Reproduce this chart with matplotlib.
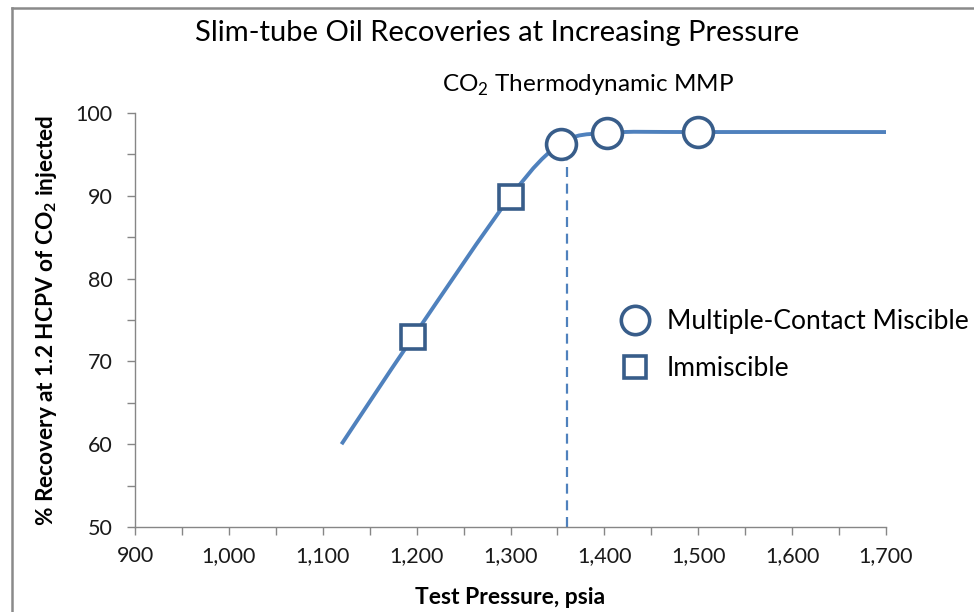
import numpy as np
import matplotlib.pyplot as plt
from matplotlib.path import Path
from matplotlib.patches import PathPatch
from matplotlib.lines import Line2D
from matplotlib.ticker import MultipleLocator, FuncFormatter

plt.rcParams['font.family'] = ['Lato', 'DejaVu Sans']
plt.rcParams['mathtext.fontset'] = 'custom'
plt.rcParams['mathtext.rm'] = 'Lato'
plt.rcParams['mathtext.bf'] = 'Lato:bold'

# smoothed trend line through the tests
curve_p = [1120, 1196, 1300, 1354, 1403, 1500, 1700]
curve_r = [60.0, 72.9, 89.9, 96.3, 97.6, 97.7, 97.7]

# slim-tube test points
miscible_p = [1354, 1403, 1500]
miscible_r = [96.3, 97.6, 97.7]
immiscible_p = [1196, 1300]
immiscible_r = [72.9, 89.9]

mmp = 1360

line_col = '#4F81BD'
mark_col = '#385D8A'
grey = '#868686'

fig = plt.figure(figsize=(9.74, 6.12), dpi=100)
ax = fig.add_axes([135/974, 1-527/612, (886-135)/974, (527-113)/612])

# Excel-style smoothed line: cubic bezier through the points
pts = np.column_stack([curve_p, curve_r]).astype(float)
ext = np.vstack([pts[0], pts, pts[-1]])
verts = [pts[0]]
codes = [Path.MOVETO]
for i in range(len(pts) - 1):
    p0, p1, p2, p3 = ext[i], ext[i+1], ext[i+2], ext[i+3]
    verts += [p1 + (p2 - p0)/6, p2 - (p3 - p1)/6, p2]
    codes += [Path.CURVE4]*3
ax.add_patch(PathPatch(Path(verts, codes), fill=False, edgecolor=line_col,
                       lw=2.8, capstyle='butt', zorder=2))

# MMP marker line
dl, = ax.plot([mmp, mmp], [50, 96], color=line_col, lw=1.6, zorder=1)
dl.set_dashes([4.5, 3])

ax.plot(miscible_p, miscible_r, 'o', ms=21.5, mfc='white', mec=mark_col, mew=2.6,
        zorder=3, label='Multiple-Contact Miscible')
ax.plot(immiscible_p, immiscible_r, 's', ms=17, mfc='white', mec=mark_col, mew=2.6,
        zorder=3, label='Immiscible')

ax.set_xlim(900, 1700)
ax.set_ylim(50, 100)
ax.xaxis.set_major_locator(MultipleLocator(100))
ax.xaxis.set_minor_locator(MultipleLocator(50))
ax.yaxis.set_major_locator(MultipleLocator(10))
ax.yaxis.set_minor_locator(MultipleLocator(5))
ax.xaxis.set_major_formatter(FuncFormatter(lambda v, p: f'{v:,.0f}'))
ax.tick_params(which='both', direction='out', length=6, width=1, color=grey,
               labelsize=15.5, labelcolor='#1a1a1a')
ax.tick_params(axis='x', pad=8)
ax.tick_params(axis='y', pad=10)
for s in ['top', 'right']:
    ax.spines[s].set_visible(False)
for s in ['left', 'bottom']:
    ax.spines[s].set_color(grey)
    ax.spines[s].set_linewidth(1)

ax.set_xlabel('Test Pressure, psia', fontsize=16.5, fontweight='bold', labelpad=15)
ax.set_ylabel(r'% Recovery at 1.2 HCPV of CO$_\mathbf{2}$ injected', fontsize=16.3,
              fontweight='bold', labelpad=12)

fig.text(497/974, 1-33/612, 'Slim-tube Oil Recoveries at Increasing Pressure',
         ha='center', va='center', fontsize=21)
fig.text(588/974, 1-85/612, r'CO$_2$ Thermodynamic MMP', ha='center', va='center',
         fontsize=17.5)

ax.legend(loc='upper left', bbox_to_anchor=(622/974, 1-309/612),
          bbox_transform=fig.transFigure, frameon=False, fontsize=19,
          markerscale=0.95, handlelength=1.0, handletextpad=0.7,
          labelspacing=0.85, borderaxespad=0, borderpad=0)

# outer chart border, cut off at the right and bottom
fig.add_artist(Line2D([11.5/974, 11.5/974], [-0.1, 1-8/612], color='#8a8a8a', lw=1.8,
                      transform=fig.transFigure))
fig.add_artist(Line2D([11.5/974, 1.1], [1-8/612, 1-8/612], color='#8a8a8a', lw=1.8,
                      transform=fig.transFigure))

fig.savefig('out.png', dpi=100)
